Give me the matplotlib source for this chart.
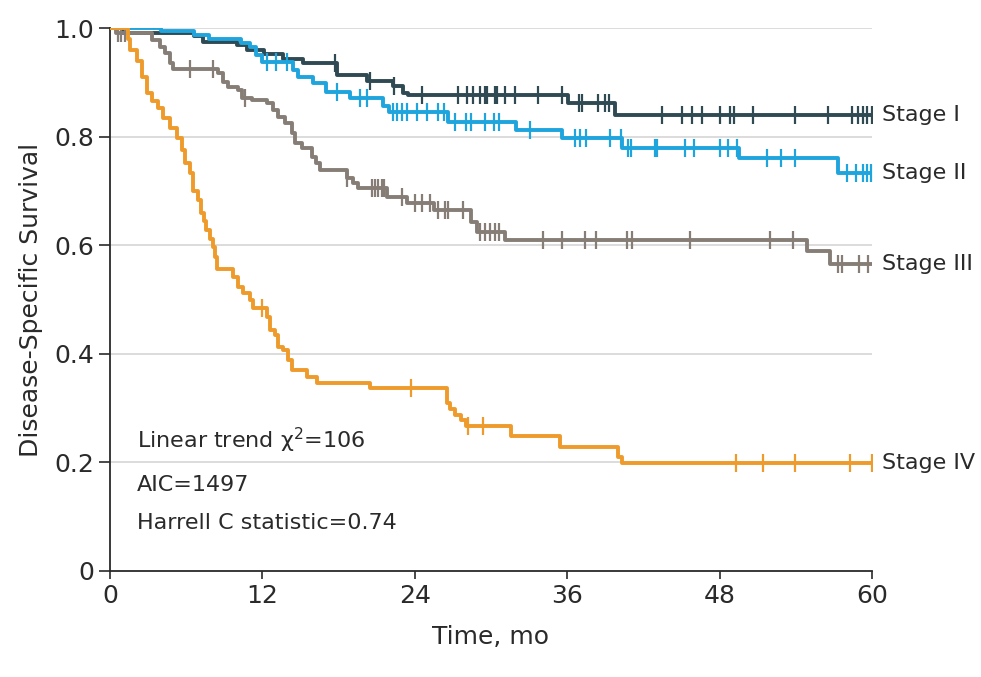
import numpy as np
import matplotlib
matplotlib.use("Agg")
import matplotlib.pyplot as plt

plt.rcParams['font.family'] = ['DejaVu Sans']

# step curves: time of each drop and survival after it
stage1_t = [0, 1.0, 6.6, 7.3, 10.0, 10.8, 12.1, 13.6, 15.2, 17.9, 20.2, 22.3, 23.1, 23.5, 36.1, 39.8]
stage1_s = [1.0, 0.99, 0.985, 0.975, 0.968, 0.96, 0.952, 0.943, 0.935, 0.913, 0.902, 0.893, 0.88, 0.877, 0.862, 0.84]
stage1_c = [17.7, 20.5, 22.4, 24.6, 27.4, 28.1, 28.6, 29.1, 29.5, 29.7, 30.3, 30.5, 31.1, 31.9, 33.7, 35.6,
            36.9, 37.2, 38.4, 39.0, 39.3, 43.5, 45.0, 45.8, 46.6, 48.0, 48.8, 49.1, 50.6, 53.9, 56.5,
            58.4, 58.9, 59.3, 59.6, 60.0]

stage2_t = [0, 4.0, 6.6, 7.8, 10.3, 11.0, 11.5, 12.0, 14.4, 14.8, 16.0, 17.0, 18.9, 21.5, 22.0, 26.6,
            32.0, 35.6, 40.3, 49.5, 57.3]
stage2_s = [1.0, 0.995, 0.987, 0.98, 0.972, 0.965, 0.95, 0.937, 0.923, 0.91, 0.898, 0.882, 0.871, 0.856,
            0.845, 0.827, 0.812, 0.797, 0.779, 0.76, 0.733]
stage2_c = [12.4, 13.1, 13.9, 17.9, 19.7, 20.2, 22.3, 22.6, 23.0, 23.4, 24.2, 25.0, 25.8, 26.3,
            27.2, 28.0, 28.4, 29.5, 30.2, 30.6, 33.1, 36.6, 37.0, 37.5, 39.4, 40.2, 40.8, 41.0, 42.9,
            43.1, 45.3, 46.0, 48.0, 48.7, 49.4, 51.7, 52.8, 53.9, 58.0, 58.7, 59.3, 59.6, 59.9]

stage3_t = [0, 0.5, 3.3, 3.9, 4.3, 4.7, 5.0, 8.5, 8.9, 9.3, 10.1, 10.4, 11.2, 12.4, 12.8, 13.2, 13.8,
            14.3, 14.6, 15.1, 15.9, 16.2, 16.5, 18.7, 19.1, 19.5, 21.8, 23.4, 25.5, 28.4, 28.9, 31.1,
            54.9, 56.7]
stage3_s = [1.0, 0.99, 0.978, 0.965, 0.954, 0.935, 0.925, 0.917, 0.90, 0.891, 0.886, 0.871, 0.867, 0.862,
            0.849, 0.836, 0.825, 0.807, 0.788, 0.779, 0.762, 0.751, 0.738, 0.724, 0.715, 0.705, 0.689,
            0.678, 0.665, 0.643, 0.625, 0.61, 0.59, 0.565]
stage3_c = [0.6, 0.9, 1.2, 6.3, 8.1, 10.6, 18.7, 20.6, 20.9, 21.1, 21.4, 21.6, 23.0, 24.0, 24.6, 25.2,
            25.8, 26.4, 26.6, 27.8, 29.1, 29.5, 29.9, 30.3, 30.6, 34.1, 35.6, 37.4, 38.3, 40.7, 41.1,
            45.7, 52.0, 53.8, 57.3, 57.6, 59.0, 59.7]

stage4_t = [0, 1.4, 1.6, 2.1, 2.5, 2.9, 3.3, 3.8, 4.2, 4.7, 5.3, 5.7, 5.9, 6.3, 6.5, 6.9, 7.2, 7.4, 7.6,
            7.9, 8.1, 8.3, 8.4, 9.7, 10.1, 10.5, 11.0, 11.3, 12.4, 12.6, 13.0, 13.2, 13.6, 14.0, 14.3,
            15.5, 16.3, 20.5, 26.5, 26.8, 27.2, 27.6, 28.0, 31.6, 35.4, 40.0, 40.3]
stage4_s = [1.0, 0.98, 0.96, 0.94, 0.91, 0.88, 0.865, 0.853, 0.834, 0.816, 0.797, 0.775, 0.751, 0.733,
            0.70, 0.683, 0.66, 0.645, 0.628, 0.612, 0.597, 0.578, 0.556, 0.541, 0.523, 0.512, 0.499,
            0.484, 0.468, 0.444, 0.435, 0.413, 0.407, 0.389, 0.37, 0.357, 0.346, 0.337, 0.31, 0.298,
            0.287, 0.278, 0.267, 0.248, 0.228, 0.21, 0.199]
stage4_c = [12.0, 23.7, 28.2, 29.4, 49.3, 51.4, 53.9, 58.3, 60.0]

stages = ["Stage I", "Stage II", "Stage III", "Stage IV"]
colors = ["#2f4a53", "#1fa5de", "#867e76", "#ee9b2c"]
curves = [(stage1_t, stage1_s, stage1_c), (stage2_t, stage2_s, stage2_c),
          (stage3_t, stage3_s, stage3_c), (stage4_t, stage4_s, stage4_c)]

fig = plt.figure(figsize=(9.81, 6.77), dpi=100)
ax = fig.add_axes([0.1121, 0.1566, 0.7768, 0.802])

for yv in [0.2, 0.4, 0.6, 0.8, 1.0]:
    ax.axhline(yv, color="#d6d6d6", lw=1.2, zorder=0)

# draw order: orange, gray, dark, blue on top
for i in [3, 2, 0, 1]:
    t, s, c = curves[i]
    t = np.array(t + [60.0])
    s = np.array(s + [s[-1]])
    ax.step(t, s, where="post", color=colors[i], lw=2.8, zorder=2 + i)
    c = np.array(c)
    idx = np.searchsorted(t, c, side="right") - 1
    ax.plot(c, s[idx], ls="none", marker="|", ms=13, mew=1.6, color=colors[i], zorder=2 + i)
    ax.text(60.8, s[-1], stages[i], fontsize=16, color="#2a2a2a", va="center", ha="left", clip_on=False)

ax.text(2.1, 0.241, "Linear trend χ$^2$=106", fontsize=16, color="#2a2a2a", va="center")
ax.text(2.1, 0.158, "AIC=1497", fontsize=16, color="#2a2a2a", va="center")
ax.text(2.1, 0.088, "Harrell C statistic=0.74", fontsize=16, color="#2a2a2a", va="center")

ax.set_xlim(0, 60)
ax.set_ylim(0, 1.0)
ax.set_xticks([0, 12, 24, 36, 48, 60])
ax.set_yticks([0, 0.2, 0.4, 0.6, 0.8, 1.0])
ax.set_yticklabels(["0", "0.2", "0.4", "0.6", "0.8", "1.0"])
ax.tick_params(axis="both", labelsize=18, colors="#2a2a2a", width=1.2)
ax.tick_params(axis="y", length=8)
ax.tick_params(axis="x", length=6)
for side in ["top", "right"]:
    ax.spines[side].set_visible(False)
for side in ["left", "bottom"]:
    ax.spines[side].set_linewidth(1.3)
    ax.spines[side].set_color("#2a2a2a")
ax.set_xlabel("Time, mo", fontsize=18, color="#2a2a2a", labelpad=12)
ax.set_ylabel("Disease-Specific Survival", fontsize=18, color="#2a2a2a", labelpad=8)

fig.savefig("out.png", dpi=100)
